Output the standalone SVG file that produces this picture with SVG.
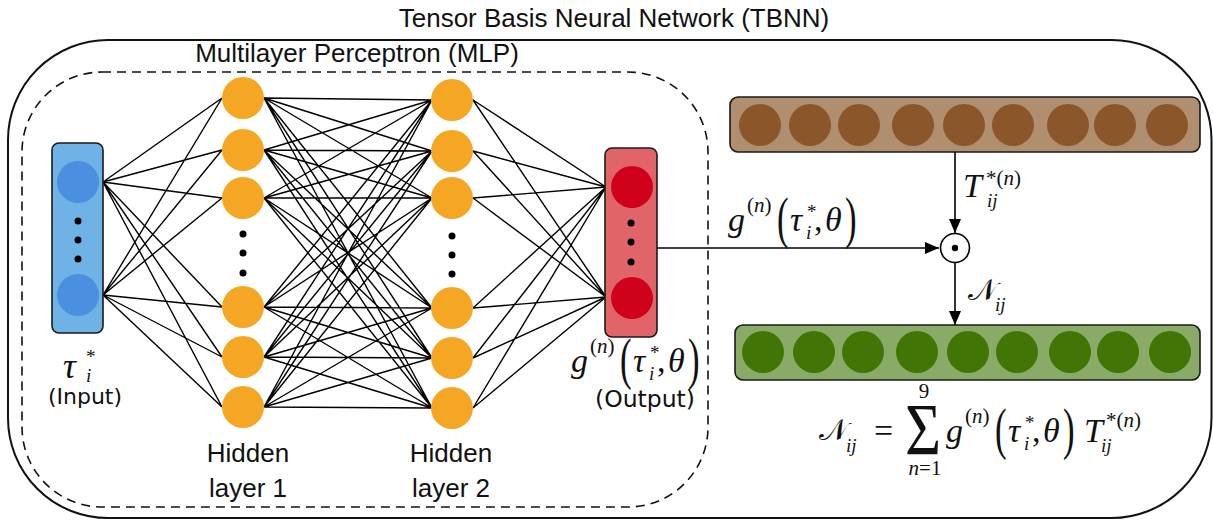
<svg xmlns="http://www.w3.org/2000/svg" width="1213" height="523" viewBox="0 0 1213 523">
  <defs>
    <style>
      .sans { font-family: "Liberation Sans", Arial, sans-serif; font-size: 26px; fill: #111; }
      .lbl { font-family: "DejaVu Sans", "Liberation Sans", sans-serif; font-size: 22px; fill: #111; }
      .mi { font-family: "Liberation Serif", "DejaVu Serif", serif; font-style: italic; font-size: 34px; fill: #111; }
      .mr { font-family: "Liberation Serif", "DejaVu Serif", serif; font-size: 34px; fill: #111; }
      .sup { font-size: 21px; }
      .sub { font-size: 19px; }
      .cal { font-family: "DejaVu Serif", "DejaVu Sans", serif; font-size: 30px; fill: #111; }
      .frame { fill: none; stroke: #111; stroke-width: 2; }
      .dash { fill: none; stroke: #111; stroke-width: 1.6; stroke-dasharray: 9 6; }
      .box { stroke: #1a1a1a; stroke-width: 1.6; }
      .hid { fill: #f5a623; }
      .dot { fill: #000; }
      .wire { fill: none; stroke: #000; stroke-width: 1.4; }
      .arrow { fill: none; stroke: #000; stroke-width: 1.6; }
    </style>
    <marker id="head" viewBox="0 0 14 12" refX="14" refY="6" markerWidth="14" markerHeight="12" markerUnits="userSpaceOnUse" orient="auto">
      <path d="M0 0L14 6L0 12Z" fill="#000"/>
    </marker>
    <!-- g^(n)(tau_i^*, theta): placed with its g at the origin, on the baseline -->
    <g id="gfun">
      <text class="mi" x="0" y="0">g</text>
      <text class="mr sup" x="19" y="-19">(<tspan class="mi sup">n</tspan>)</text>
      <text class="mr" transform="translate(49,6) scale(0.6,1)" style="font-size:58px">(</text>
      <text class="mi" x="62" y="0">τ</text>
      <text class="mi sub" x="78" y="8">i</text>
      <text class="mr sub" x="79" y="-13">*</text>
      <text class="mr" x="86" y="0">,</text>
      <text class="mi" x="97" y="0">θ</text>
      <text class="mr" transform="translate(117,6) scale(0.6,1)" style="font-size:58px">)</text>
    </g>
  </defs>

  <rect width="1213" height="523" fill="#fff"/>

  <!-- outer TBNN frame and inner MLP frame -->
  <rect class="frame" x="8" y="40" width="1203.5" height="478" rx="100" ry="100"/>
  <rect class="dash" x="22" y="72" width="686" height="435" rx="80" ry="80"/>
  <text class="sans" x="614" y="27" text-anchor="middle">Tensor Basis Neural Network (TBNN)</text>
  <text class="sans" x="357" y="62" text-anchor="middle">Multilayer Perceptron (MLP)</text>

  <!-- connectors -->
  <g id="connectors">
    <path id="in-h1" class="wire" d="M103 182L222 98M103 182L222 150M103 182L222 198M103 182L222 307M103 182L222 357M103 182L222 407M103 295L222 98M103 295L222 150M103 295L222 198M103 295L222 307M103 295L222 357M103 295L222 407"/>
    <path id="h1-h2" class="wire" d="M264 98L432 100M264 98L432 151M264 98L432 198M264 98L432 308M264 98L432 358M264 98L432 408M264 150L432 100M264 150L432 151M264 150L432 198M264 150L432 308M264 150L432 358M264 150L432 408M264 198L432 100M264 198L432 151M264 198L432 198M264 198L432 308M264 198L432 358M264 198L432 408M264 307L432 100M264 307L432 151M264 307L432 198M264 307L432 308M264 307L432 358M264 307L432 408M264 357L432 100M264 357L432 151M264 357L432 198M264 357L432 308M264 357L432 358M264 357L432 408M264 407L432 100M264 407L432 151M264 407L432 198M264 407L432 308M264 407L432 358M264 407L432 408"/>
    <path id="h2-out" class="wire" d="M473 100L606 187M473 100L606 297M473 151L606 187M473 151L606 297M473 198L606 187M473 198L606 297M473 308L606 187M473 308L606 297M473 358L606 187M473 358L606 297M473 408L606 187M473 408L606 297"/>
    <line id="out-prod" class="arrow" x1="657" y1="248" x2="939" y2="248" marker-end="url(#head)"/>
    <line id="basis-prod" class="arrow" x1="955" y1="152" x2="955" y2="233" marker-end="url(#head)"/>
    <line id="prod-result" class="arrow" x1="955" y1="263" x2="955" y2="325" marker-end="url(#head)"/>
    <use href="#gfun" transform="translate(728,231)"/>
    <g id="label-T">
      <text class="mi" x="963" y="197">T</text>
      <text class="mr sup" x="986" y="185">*(<tspan class="mi sup">n</tspan>)</text>
      <text class="mi sub" x="987" y="207">ij</text>
    </g>
    <g id="label-N">
      <text class="cal" x="968" y="300">𝒩</text>
      <text class="mi sub" x="995" y="311">ij</text>
    </g>
  </g>

  <!-- input layer -->
  <g id="input">
    <rect class="box" x="52" y="143" width="51" height="190" rx="7" fill="#6fb3e6"/>
    <circle cx="78" cy="182" r="21" fill="#4a8fe0"/>
    <circle cx="78" cy="295" r="21" fill="#4a8fe0"/>
    <circle class="dot" cx="78" cy="221" r="3.5"/>
    <circle class="dot" cx="78" cy="240" r="3.5"/>
    <circle class="dot" cx="78" cy="259" r="3.5"/>
    <text class="mi" x="63" y="378" style="font-size:36px">τ</text>
    <text class="mi sub" x="86" y="382">i</text>
    <text class="mr sub" x="86" y="363">*</text>
    <text class="lbl" x="85" y="404" text-anchor="middle">(Input)</text>
  </g>

  <!-- hidden layer 1 -->
  <g id="hidden1">
    <circle class="hid" cx="243" cy="98" r="21"/>
    <circle class="hid" cx="243" cy="150" r="21"/>
    <circle class="hid" cx="243" cy="198" r="21"/>
    <circle class="hid" cx="243" cy="307" r="21"/>
    <circle class="hid" cx="243" cy="357" r="21"/>
    <circle class="hid" cx="243" cy="407" r="21"/>
    <circle class="dot" cx="243" cy="234" r="3.5"/>
    <circle class="dot" cx="243" cy="253" r="3.5"/>
    <circle class="dot" cx="243" cy="273" r="3.5"/>
    <text class="sans" x="248" y="462" text-anchor="middle">Hidden</text>
    <text class="sans" x="248" y="497" text-anchor="middle">layer 1</text>
  </g>

  <!-- hidden layer 2 -->
  <g id="hidden2">
    <circle class="hid" cx="452" cy="100" r="21"/>
    <circle class="hid" cx="452" cy="151" r="21"/>
    <circle class="hid" cx="452" cy="198" r="21"/>
    <circle class="hid" cx="452" cy="308" r="21"/>
    <circle class="hid" cx="452" cy="358" r="21"/>
    <circle class="hid" cx="452" cy="408" r="21"/>
    <circle class="dot" cx="452" cy="236" r="3.5"/>
    <circle class="dot" cx="452" cy="255" r="3.5"/>
    <circle class="dot" cx="452" cy="274" r="3.5"/>
    <text class="sans" x="451" y="462" text-anchor="middle">Hidden</text>
    <text class="sans" x="451" y="497" text-anchor="middle">layer 2</text>
  </g>

  <!-- output layer -->
  <g id="output">
    <rect class="box" x="605" y="148" width="52" height="189" rx="7" fill="#e06468"/>
    <circle cx="632" cy="187" r="21" fill="#d0021b"/>
    <circle cx="632" cy="298" r="21" fill="#d0021b"/>
    <circle class="dot" cx="631" cy="223" r="3.5"/>
    <circle class="dot" cx="631" cy="242" r="3.5"/>
    <circle class="dot" cx="631" cy="262" r="3.5"/>
    <use href="#gfun" transform="translate(571,372)"/>
    <text class="lbl" x="645" y="407" text-anchor="middle" style="font-size:23.5px">(Output)</text>
  </g>

  <!-- tensor basis T_ij^*(n) -->
  <g id="basis">
    <rect class="box" x="730" y="97" width="470" height="55" rx="8" fill="#b08e70"/>
    <circle cx="760" cy="125" r="21" fill="#8b572a"/>
    <circle cx="810" cy="125" r="21" fill="#8b572a"/>
    <circle cx="859" cy="125" r="21" fill="#8b572a"/>
    <circle cx="913" cy="125" r="21" fill="#8b572a"/>
    <circle cx="964" cy="125" r="21" fill="#8b572a"/>
    <circle cx="1013" cy="125" r="21" fill="#8b572a"/>
    <circle cx="1068" cy="125" r="21" fill="#8b572a"/>
    <circle cx="1115" cy="125" r="21" fill="#8b572a"/>
    <circle cx="1167" cy="125" r="21" fill="#8b572a"/>
  </g>

  <!-- element-wise product -->
  <g id="product">
    <circle cx="955" cy="248" r="14.5" fill="#fff" stroke="#000" stroke-width="1.6"/>
    <circle class="dot" cx="955" cy="248" r="3.2"/>
  </g>

  <!-- result N_ij -->
  <g id="result">
    <rect class="box" x="735" y="325" width="465" height="55" rx="8" fill="#8aab68"/>
    <circle cx="763" cy="352" r="21" fill="#417505"/>
    <circle cx="814" cy="352" r="21" fill="#417505"/>
    <circle cx="863" cy="352" r="21" fill="#417505"/>
    <circle cx="917" cy="352" r="21" fill="#417505"/>
    <circle cx="968" cy="352" r="21" fill="#417505"/>
    <circle cx="1017" cy="352" r="21" fill="#417505"/>
    <circle cx="1070" cy="352" r="21" fill="#417505"/>
    <circle cx="1118" cy="352" r="21" fill="#417505"/>
    <circle cx="1170" cy="352" r="21" fill="#417505"/>
  </g>

  <!-- N_ij = sum_{n=1}^{9} g^(n)(tau_i^*, theta) T_ij^*(n) -->
  <g id="formula">
    <text class="cal" x="819" y="440">𝒩</text>
    <text class="mi sub" x="846" y="452">ij</text>
    <text class="mr" x="874" y="442">=</text>
    <text class="mr" transform="translate(905,455) scale(1,1.2)" style="font-size:62px">Σ</text>
    <text class="mr sup" x="924" y="398" text-anchor="middle">9</text>
    <text class="mr sup" x="925" y="475" text-anchor="middle"><tspan class="mi sup">n</tspan>=1</text>
    <use href="#gfun" transform="translate(946,442)"/>
    <text class="mi" x="1084" y="442">T</text>
    <text class="mr sup" x="1106" y="427">*(<tspan class="mi sup">n</tspan>)</text>
    <text class="mi sub" x="1101" y="452">ij</text>
  </g>
</svg>
